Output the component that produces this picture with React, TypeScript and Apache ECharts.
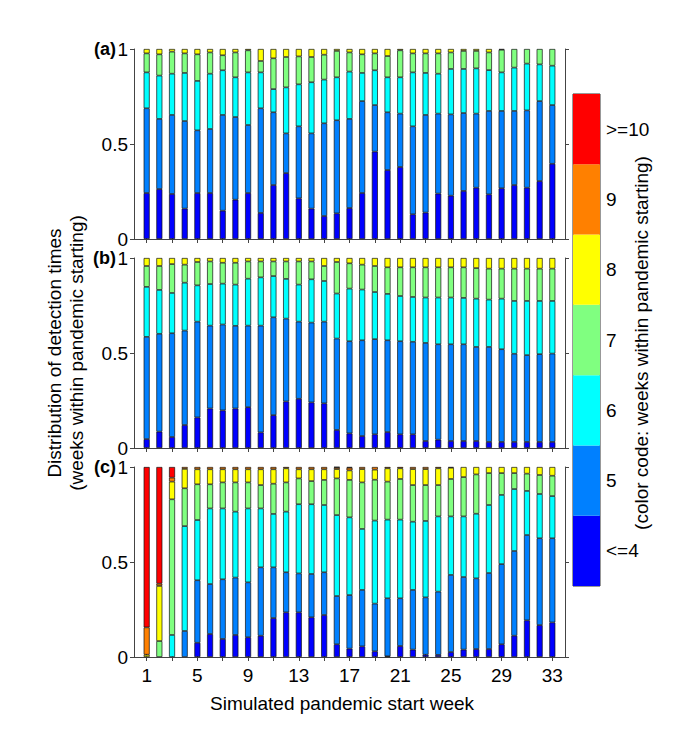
import React, { useEffect, useRef } from "react";
import * as echarts from "echarts";

// ---------------- data ----------------
const weeks = [1, 2, 3, 4, 5, 6, 7, 8, 9, 10, 11, 12, 13, 14, 15, 16, 17, 18, 19, 20, 21, 22, 23, 24, 25, 26, 27, 28, 29, 30, 31, 32, 33];
// x positions of the axis: an empty slot at each end (0 and 34)
const xSlots = [0, ...weeks, 34];
const colorKeys = ["<=4", "5", "6", "7", "8", "9", ">=10"];
const colorList = ["#0000FF", "#0080FF", "#00FFFF", "#80FF80", "#FFFF00", "#FF8000", "#FF0000"];
const xTickValues = [1, 3, 5, 7, 9, 11, 13, 15, 17, 19, 21, 23, 25, 27, 29, 31, 33];
const xLabelValues = [1, 5, 9, 13, 17, 21, 25, 29, 33];
const panelLabels = ["(a)", "(b)", "(c)"];
const yAxisTitle = ["Distribution of detection times", "(weeks within pandemic starting)"];
const xAxisTitle = "Simulated pandemic start week";
const colorbarTitle = "(color code: weeks within pandemic starting)";

// cumulative share reached by each detection week (top of each coloured block)
// panel (a)
const aTop4 = [0.242, 0.263, 0.237, 0.16, 0.242, 0.242, 0.149, 0.207, 0.242, 0.137, 0.284, 0.347, 0.214, 0.16, 0.121, 0.135, 0.163, 0.242, 0.46, 0.363, 0.379, 0.13, 0.139, 0.239, 0.228, 0.253, 0.27, 0.235, 0.267, 0.284, 0.27, 0.305, 0.396];
const aTop5 = [0.688, 0.632, 0.653, 0.621, 0.572, 0.579, 0.653, 0.642, 0.6, 0.688, 0.667, 0.556, 0.593, 0.556, 0.609, 0.625, 0.632, 0.726, 0.705, 0.667, 0.66, 0.593, 0.653, 0.66, 0.656, 0.663, 0.66, 0.674, 0.674, 0.674, 0.677, 0.726, 0.705];
const aTop6 = [0.877, 0.86, 0.87, 0.874, 0.832, 0.87, 0.888, 0.851, 0.877, 0.877, 0.789, 0.798, 0.814, 0.825, 0.839, 0.851, 0.881, 0.874, 0.888, 0.851, 0.851, 0.877, 0.874, 0.87, 0.895, 0.895, 0.898, 0.889, 0.877, 0.902, 0.923, 0.919, 0.912];
const aTop7 = [0.977, 0.972, 0.986, 0.977, 0.972, 0.982, 0.967, 0.982, 0.993, 0.937, 0.951, 0.958, 0.961, 0.958, 0.97, 0.99, 0.982, 0.972, 0.977, 0.963, 0.993, 0.977, 0.977, 0.977, 0.982, 0.99, 0.99, 0.982, 0.996, 1.0, 1.0, 1.0, 1.0];
// panel (b)
const bTop4 = [0.047, 0.086, 0.058, 0.121, 0.161, 0.208, 0.198, 0.208, 0.215, 0.082, 0.173, 0.245, 0.259, 0.24, 0.235, 0.095, 0.077, 0.063, 0.072, 0.084, 0.072, 0.072, 0.037, 0.044, 0.037, 0.037, 0.037, 0.032, 0.032, 0.032, 0.032, 0.032, 0.032];
const bTop5 = [0.585, 0.601, 0.604, 0.618, 0.665, 0.644, 0.65, 0.643, 0.644, 0.644, 0.688, 0.681, 0.665, 0.66, 0.665, 0.576, 0.562, 0.567, 0.573, 0.567, 0.562, 0.559, 0.553, 0.546, 0.546, 0.546, 0.532, 0.532, 0.52, 0.496, 0.489, 0.494, 0.497];
const bTop6 = [0.848, 0.832, 0.816, 0.87, 0.856, 0.863, 0.865, 0.86, 0.891, 0.898, 0.905, 0.89, 0.86, 0.888, 0.879, 0.813, 0.839, 0.834, 0.821, 0.811, 0.8, 0.795, 0.792, 0.792, 0.792, 0.79, 0.786, 0.781, 0.786, 0.774, 0.774, 0.774, 0.774];
const bTop7 = [0.958, 0.958, 0.968, 0.965, 0.979, 0.982, 0.975, 0.975, 0.982, 0.982, 0.982, 0.982, 0.982, 0.982, 0.958, 0.979, 0.972, 0.965, 0.958, 0.951, 0.951, 0.951, 0.951, 0.951, 0.951, 0.951, 0.947, 0.944, 0.944, 0.944, 0.944, 0.944, 0.944];
// panel (c)
const cTop4 = [0, 0, 0, 0, 0.075, 0.121, 0.095, 0.116, 0.104, 0.112, 0.205, 0.235, 0.235, 0.209, 0.221, 0.067, 0.044, 0.056, 0.03, 0.004, 0.058, 0.039, 0.012, 0.011, 0.026, 0.039, 0.042, 0.042, 0.067, 0.112, 0.193, 0.168, 0.182];
const cTop5 = [0, 0, 0, 0.137, 0.404, 0.384, 0.409, 0.418, 0.393, 0.472, 0.472, 0.446, 0.44, 0.437, 0.446, 0.321, 0.326, 0.353, 0.281, 0.309, 0.309, 0.353, 0.314, 0.344, 0.432, 0.421, 0.414, 0.442, 0.489, 0.558, 0.642, 0.625, 0.625];
const cTop6 = [0, 0, 0.116, 0.689, 0.721, 0.782, 0.782, 0.765, 0.782, 0.782, 0.753, 0.765, 0.804, 0.804, 0.8, 0.747, 0.735, 0.674, 0.718, 0.723, 0.723, 0.712, 0.716, 0.74, 0.74, 0.74, 0.754, 0.8, 0.853, 0.884, 0.874, 0.858, 0.847];
const cTop7 = [0, 0.084, 0.83, 0.888, 0.909, 0.909, 0.919, 0.919, 0.919, 0.905, 0.912, 0.919, 0.94, 0.926, 0.932, 0.94, 0.932, 0.919, 0.933, 0.923, 0.937, 0.905, 0.905, 0.905, 0.937, 0.947, 0.961, 0.968, 0.968, 0.968, 0.965, 0.958, 0.954];
const cTop8 = [0.012, 0.374, 0.923, 0.99, 0.988, 0.988, 0.988, 0.988, 0.988, 0.988, 0.988, 0.993, 0.988, 0.988, 0.988, 0.989, 0.982, 0.989, 0.986, 0.993, 0.993, 0.989, 0.989, 0.993, 0.996, 1, 1, 1, 1, 1, 1, 1, 1];
const cTop9 = [0.156, 0.386, 0.944, 1, 1, 1, 1, 1, 1, 1, 1, 1, 1, 1, 1, 0.998, 0.996, 1, 1, 1, 1, 1, 1, 1, 1, 1, 1, 1, 1, 1, 1, 1, 1];

const panelTops = [[aTop4, aTop5, aTop6, aTop7], [bTop4, bTop5, bTop6, bTop7], [cTop4, cTop5, cTop6, cTop7, cTop8, cTop9]];

// ---------------- layout ----------------
const FONT = "'Liberation Sans', Arial, Helvetica, sans-serif";
const GRID_LEFT = 134;
const GRID_WIDTH = 431;
const GRID_TOPS = [49, 258, 467];
const GRID_H = 190;
const AXIS_COLOR = "#444";

function segmentsFor(tops: number[][]): number[][] {
  const out: number[][] = [];
  for (let k = 0; k < colorKeys.length; k++) {
    out.push(
      weeks.map((_, i) => {
        let v: number;
        if (k < tops.length) v = tops[k][i] - (k > 0 ? tops[k - 1][i] : 0);
        else if (k === tops.length) v = 1 - tops[tops.length - 1][i];
        else v = 0;
        v = Math.round(v * 1000) / 1000;
        return v > 0.0005 ? v : 0;
      })
    );
  }
  return out;
}

export default function App() {
  const ref = useRef<HTMLDivElement>(null);

  useEffect(() => {
    if (!ref.current) return;
    const chart = echarts.init(ref.current, undefined, { renderer: "svg" });

    const grids: any[] = [];
    const xAxes: any[] = [];
    const yAxes: any[] = [];
    const series: any[] = [];

    const axisLine = { show: true, lineStyle: { color: AXIS_COLOR, width: 1 } };
    const labelStyle = { color: "#000", fontSize: 19, fontFamily: FONT };
    const xCats = xSlots.map(String);
    const tickAt = (idx: number) => xTickValues.indexOf(xSlots[idx]) >= 0;
    const labelAt = (idx: number) => xLabelValues.indexOf(xSlots[idx]) >= 0;

    panelTops.forEach((tops, p) => {
      grids.push({ left: GRID_LEFT, top: GRID_TOPS[p], width: GRID_WIDTH, height: GRID_H });
      const isBottom = p === panelTops.length - 1;
      [
        { position: "bottom", showLabel: isBottom },
        { position: "top", showLabel: false },
      ].forEach((cfg) => {
        xAxes.push({
          type: "category", gridIndex: p, position: cfg.position, data: xCats, boundaryGap: false,
          axisLine, splitLine: { show: false },
          axisTick: { show: true, inside: false, length: 4, interval: tickAt, lineStyle: { color: AXIS_COLOR } },
          axisLabel: { show: cfg.showLabel, interval: labelAt, margin: 9, ...labelStyle },
        });
      });
      yAxes.push({
        type: "value", gridIndex: p, position: "left", min: 0, max: 1, interval: 0.5,
        axisLine, splitLine: { show: false },
        axisTick: { show: true, inside: false, length: 4, lineStyle: { color: AXIS_COLOR } },
        axisLabel: { margin: 6, ...labelStyle },
      });
      yAxes.push({
        type: "value", gridIndex: p, position: "right", min: 0, max: 1, interval: 0.5,
        axisLine, splitLine: { show: false },
        axisTick: { show: true, inside: false, length: 4, lineStyle: { color: AXIS_COLOR } },
        axisLabel: { show: false },
      });
      const segs = segmentsFor(tops);
      segs.forEach((vals, k) => {
        series.push({
          type: "bar",
          name: colorKeys[k],
          xAxisIndex: 2 * p,
          yAxisIndex: 2 * p,
          stack: "panel" + p,
          barWidth: 6,
          itemStyle: { color: colorList[k], borderColor: "#111", borderWidth: 0.7 },
          data: xSlots.map((x) => {
            const i = weeks.indexOf(x);
            if (i < 0 || vals[i] === 0) return "-";
            return vals[i];
          }),
        });
      });
    });

    // colour bar drawn as a stacked category axis
    const cbIndex = panelTops.length;
    grids.push({ left: 573, top: 94, width: 27, height: 492, show: true, borderColor: "#333", borderWidth: 1, backgroundColor: "transparent" });
    xAxes.push({ type: "value", gridIndex: cbIndex, min: 0, max: 1, show: false });
    yAxes.push({
      type: "category", gridIndex: cbIndex, position: "right", data: colorKeys,
      axisLine: { show: false }, axisTick: { show: false }, splitLine: { show: false },
      axisLabel: { margin: 6, ...labelStyle },
    });
    series.push({
      type: "bar",
      xAxisIndex: 2 * cbIndex,
      yAxisIndex: 2 * cbIndex,
      barCategoryGap: "0%",
      data: colorKeys.map((_, k) => ({ value: 1, itemStyle: { color: colorList[k] } })),
    });

    const graphics: any[] = [];
    panelLabels.forEach((t, p) => {
      graphics.push({
        type: "text", x: 116, y: GRID_TOPS[p],
        style: { text: t, font: `bold 18px ${FONT}`, fill: "#000", textAlign: "right", textVerticalAlign: "middle", align: "right", verticalAlign: "middle" },
      });
    });
    graphics.push({
      type: "text", x: 342, y: 703,
      style: { text: xAxisTitle, font: `19px ${FONT}`, fill: "#000", textAlign: "center", textVerticalAlign: "middle", align: "center", verticalAlign: "middle" },
    });
    graphics.push({
      type: "text", x: 54, y: 353, rotation: Math.PI / 2,
      style: { text: yAxisTitle[0], font: `19px ${FONT}`, fill: "#000", textAlign: "center", textVerticalAlign: "middle", align: "center", verticalAlign: "middle" },
    });
    graphics.push({
      type: "text", x: 76, y: 353, rotation: Math.PI / 2,
      style: { text: yAxisTitle[1], font: `19px ${FONT}`, fill: "#000", textAlign: "center", textVerticalAlign: "middle", align: "center", verticalAlign: "middle" },
    });
    graphics.push({
      type: "text", x: 641, y: 343, rotation: Math.PI / 2,
      style: { text: colorbarTitle, font: `19px ${FONT}`, fill: "#000", textAlign: "center", textVerticalAlign: "middle", align: "center", verticalAlign: "middle" },
    });

    chart.setOption({
      animation: false,
      backgroundColor: "#fff",
      textStyle: { fontFamily: FONT },
      grid: grids,
      xAxis: xAxes,
      yAxis: yAxes,
      series,
      graphic: graphics,
    });

    return () => chart.dispose();
  }, []);

  return <div ref={ref} style={{ position: "absolute", left: 0, top: 0, width: 685, height: 748 }} />;
}
